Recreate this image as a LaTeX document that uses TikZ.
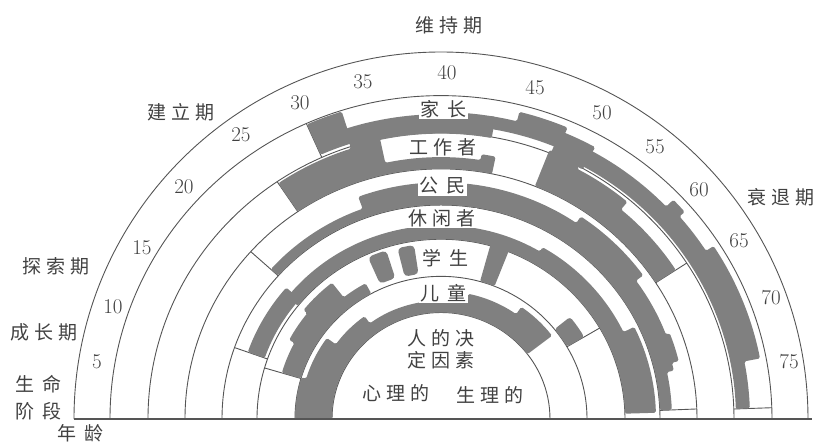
\documentclass[tikz,border=0pt]{standalone}
\usepackage{fontspec}
\newfontfamily\cjk{Noto Sans CJK SC}
\definecolor{bandgray}{RGB}{128,128,128}
\definecolor{linegray}{RGB}{85,85,85}
\definecolor{txt}{RGB}{65,65,65}
\newcommand\ob[3]{-- (#1:#3pt) arc[start angle=#1,end angle=#2,radius=#3pt]}
\newcommand\annseg[4]{(#1:#3pt) arc[start angle=#1,end angle=#2,radius=#3pt] -- (#2:#4pt) arc[start angle=#2,end angle=#1,radius=#4pt] -- cycle}
\newcommand\gapa{\hspace{8pt}}
\newcommand\gapb{\hspace{5pt}}
\begin{document}
\begin{tikzpicture}[x=1pt,y=1pt,
  band/.style={fill=bandgray, rounded corners=1.6pt},
  ring/.style={draw=linegray, line width=0.9pt},
  lab/.style={font=\cjk\fontsize{19}{19}\selectfont, text=txt, fill=white, inner sep=1.5pt},
  outer/.style={font=\cjk\fontsize{19}{19}\selectfont, text=txt, inner sep=0pt},
  age/.style={font=\fontsize{21}{21}\selectfont, text=txt, inner sep=0pt}]
\useasboundingbox (-441,-26) rectangle (373,419);
% outer age ring
\draw[ring] (-367,0) arc[start angle=180,end angle=0,radius=367pt];
\begin{scope}[yscale=0.977]
  \foreach \r in {109,146,184,219,256,293,331}
    \draw[ring] (-\r,0) arc[start angle=180,end angle=0,radius=\r pt];
  % radial dividers
  \draw[ring] (114:293pt) -- (114:331pt);
  \draw[ring] (124:256pt) -- (124:293pt);
  \draw[ring] (138:219pt) -- (138:256pt);
  \draw[ring] (160.5:184pt) -- (160.5:219pt);
  \draw[ring] (163.5:146pt) -- (163.5:184pt);
  \draw[ring] (30.4:146pt) -- (30.4:184pt);
  \draw[ring] (33:256pt) -- (33:293pt);
  \draw[ring] (2.3:219pt) -- (2.3:256pt);
  \draw[ring] (2:293pt) -- (2:331pt);
  % ring 1 child
  \fill[band] (180:109pt) arc[start angle=180,end angle=37.5,radius=109pt]
    \ob{37.5}{55}{140} \ob{55}{78}{131} \ob{78}{126}{121} \ob{126}{144}{130}
    \ob{144}{163}{141} \ob{163}{180}{146} -- cycle;
  % ring 2 student
  \fill[band] (163.5:146pt) arc[start angle=163.5,end angle=118.5,radius=146pt]
    \ob{118.5}{128}{158} \ob{128}{141}{177} \ob{141}{152}{172} \ob{152}{163.5}{166} -- cycle;
  \fill[band, rounded corners=4pt] \annseg{113.8}{107.6}{151}{181};
  \fill[band, rounded corners=4pt] \annseg{104}{98.6}{150}{180};
  \fill[band] \annseg{74.5}{68.5}{146}{187};
  \fill[band, rounded corners=3pt] \annseg{39}{30.4}{146}{166};
  % ring 3 leisurite
  \fill[band] \annseg{160.5}{139}{187}{205};
  \fill[band] (141:184pt) arc[start angle=141,end angle=1.7,radius=184pt]
    \ob{1.7}{26}{215} \ob{26}{60}{203} \ob{60}{141}{198} -- cycle;
  % ring 4 citizen
  \fill[band] (138:219pt) arc[start angle=138,end angle=2.3,radius=219pt]
    \ob{2.3}{12}{231} \ob{12}{14}{238} \ob{14}{21}{245} \ob{21}{36}{241}
    \ob{36}{56}{250} \ob{56}{110}{242} \ob{110}{138}{229} -- cycle;
  % ring 5 worker
  \fill[band] (124:256pt) arc[start angle=124,end angle=78.5,radius=256pt]
    \ob{78.5}{81.5}{274} \ob{81.5}{102}{268} \ob{102}{108}{295} \ob{108}{124}{291} -- cycle;
  \fill[band] (68.5:256pt) arc[start angle=68.5,end angle=33,radius=256pt]
    \ob{33}{50}{280} \ob{50}{62}{290} \ob{62}{68.5}{296} -- cycle;
  % ring 6 homemaker
  \fill[band] \annseg{114}{107.5}{296}{330};
  \fill[band] (108:292pt) arc[start angle=108,end angle=80,radius=292pt]
    \ob{80}{92}{314} \ob{92}{108}{312} -- cycle;
  \fill[band] (81:301pt) arc[start angle=81,end angle=67,radius=301pt]
    \ob{67}{76}{324} \ob{76}{81}{314} -- cycle;
  \fill[band] \annseg{68}{61}{292}{318};
  \fill[band] (62:295pt) arc[start angle=62,end angle=2,radius=295pt]
    \ob{2}{11}{309} \ob{11}{33}{325} \ob{33}{41}{316} \ob{41}{44}{323} \ob{44}{62}{313} -- cycle;
\end{scope}
% baseline
\draw[draw=linegray, line width=1.2pt] (-367,0) -- (371,0);
% role labels
\node[lab] (jz) at (3,310) {家\gapa 长};
\node[lab] (gzz) at (2,272) {工\gapb 作\gapb 者};
\node[lab] (gm) at (2,233) {公\gapa 民};
\node[lab] (xxz) at (1,201) {休\gapb 闲\gapb 者};
\node[lab] (xs) at (5,161) {学\gapa 生};
\node[lab] (et) at (3,126) {儿\gapa 童};
\node[lab] (rd1) at (0,81) {人\gapb 的\gapb 决};
\node[lab] (rd2) at (0,59) {定\gapb 因\gapb 素};
\node[lab] (xl) at (-45,26) {心\gapb 理\gapb 的};
\node[lab] (sl) at (49,24) {生\gapb 理\gapb 的};
% stage labels
\node[outer] (wc) at (8,394) {维\gapb 持\gapb 期};
\node[outer] (jl) at (-260,307) {建\gapb 立\gapb 期};
\node[outer] (st) at (340,222) {衰\gapb 退\gapb 期};
\node[outer] (ts) at (-385,153) {探\gapb 索\gapb 期};
\node[outer] (cz) at (-397,87) {成\gapb 长\gapb 期};
\node[outer] (sm) at (-402,35) {生\gapa 命};
\node[outer] (jd) at (-402,8) {阶\gapa 段};
\node[outer] (nl) at (-360,-14) {年\gapa 龄};
% ages
\node[age] (a5) at (-344,57) {5};
\node[age] (a10) at (-328,112) {10};
\node[age] (a15) at (-299,171) {15};
\node[age] (a20) at (-257,232) {20};
\node[age] (a25) at (-200,284) {25};
\node[age] (a30) at (-141,316) {30};
\node[age] (a35) at (-78,337) {35};
\node[age] (a40) at (6,346) {40};
\node[age] (a45) at (94,331) {45};
\node[age] (a50) at (161,306) {50};
\node[age] (a55) at (214,272) {55};
\node[age] (a60) at (258,229) {60};
\node[age] (a65) at (298,178) {65};
\node[age] (a70) at (330,121) {70};
\node[age] (a75) at (348,57) {75};
\end{tikzpicture}
\end{document}
